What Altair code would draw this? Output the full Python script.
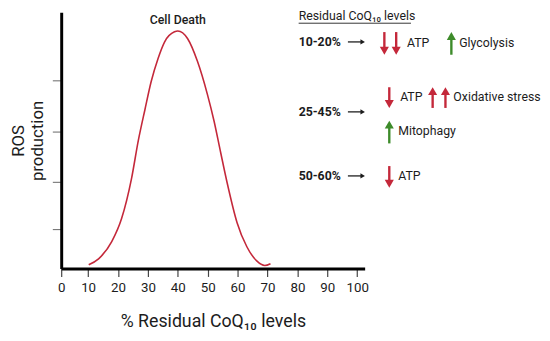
import altair as alt
import pandas as pd

# ---- data ----
pct_residual = [10.2, 13.5, 17.9, 21.2, 24.5, 26.8, 29.0, 31.1, 33.4, 35.6, 38.9, 40.0,
                43.3, 46.6, 49.9, 52.1, 54.3, 56.5, 59.8, 63.1, 66.4, 69.1, 71.0]
ros_level = [1.5, 3.8, 10.5, 19.5, 35.0, 50.0, 62.0, 73.0, 82.0, 88.5, 92.4, 92.7,
             89.7, 80.8, 68.0, 57.7, 45.5, 33.5, 18.0, 8.5, 3.0, 1.2, 1.9]
x_ticks = [1, 10, 20, 30, 40, 50, 60, 70, 80, 90, 100]
y_ticks = [15.4, 33.8, 53.5, 73.5]
peak_label = "Cell Death"
header = "Residual CoQ₁₀ levels"
x_title = "% Residual CoQ₁₀ levels"
y_title = ["ROS", "production"]

# ---- annotation layout (pixel positions in plot coords) ----
RED = "#c4283a"
GREEN = "#3d8b2a"
INK = "#1c1c1c"
FONT = "Roboto"
ANN = 12.5

texts = [  # text, x, y, bold
    ("10-20%", 241, 30, True), ("ATP", 351, 31, False), ("Glycolysis", 404, 31, False),
    ("25-45%", 241, 101, True), ("ATP", 344, 86, False), ("Oxidative stress", 398, 86, False),
    ("Mitophagy", 342, 120, False),
    ("50-60%", 241, 166, True), ("ATP", 342, 166, False),
]
big_arrows = [  # x, y_top, y_bottom, direction, color
    (328, 20, 43, "down", RED), (340, 20, 43, "down", RED), (396, 20, 43, "up", GREEN),
    (333, 76, 97, "down", RED), (377, 76, 97, "up", RED), (390, 76, 97, "up", RED),
    (333, 110, 133, "up", GREEN),
    (333, 156, 178, "down", RED),
]
small_arrows_y = [30, 101, 166]

curve_df = pd.DataFrame({"pct": pct_residual, "ros": ros_level})
peak_i = ros_level.index(max(ros_level))
peak_df = pd.DataFrame({"pct": [pct_residual[peak_i]], "ros": [ros_level[peak_i]], "t": [peak_label]})

xscale = alt.Scale(domain=[1, 102.5], nice=False, zero=False)
yscale = alt.Scale(domain=[0, 100], nice=False)

xaxis = alt.Axis(title=x_title, values=x_ticks,
                 labelExpr="datum.value == 1 ? '0' : datum.label",
                 grid=False, tickSize=8, tickColor="#444", tickWidth=1.2,
                 labelFontSize=13.5, labelColor=INK, labelFont=FONT, labelPadding=4,
                 labelFlush=False, labelOverlap=False,
                 titleFontSize=18, titleFontWeight="normal", titleColor=INK,
                 titleFont=FONT, titlePadding=19,
                 domainColor="black", domainWidth=3)
yaxis = alt.Axis(title=y_title, values=y_ticks, labels=False, grid=False,
                 tickSize=9, tickColor="#666", tickWidth=1,
                 titleFontSize=17, titleFontWeight="normal", titleColor=INK,
                 titleFont=FONT, titleLineHeight=20, titlePadding=5,
                 domainColor="black", domainWidth=3)

curve = alt.Chart(curve_df).mark_line(color=RED, strokeWidth=1.6, interpolate="monotone").encode(
    x=alt.X("pct:Q", scale=xscale, axis=xaxis),
    y=alt.Y("ros:Q", scale=yscale, axis=yaxis),
)

peak_text = alt.Chart(peak_df).mark_text(dy=-11, fontSize=12.5, font=FONT, fontWeight=500,
                                         color=INK).encode(
    x=alt.X("pct:Q", scale=xscale, axis=xaxis),
    y=alt.Y("ros:Q", scale=yscale, axis=yaxis),
    text="t:N")

layers = [curve, peak_text]

one = pd.DataFrame({"k": [0]})

# header + underline
layers.append(alt.Chart(pd.DataFrame({"t": [header]})).mark_text(
    align="left", baseline="middle", fontSize=ANN, font=FONT, color=INK).encode(
    x=alt.value(241), y=alt.value(4), text="t:N"))
layers.append(alt.Chart(one).mark_rule(color=INK, strokeWidth=0.9).encode(
    x=alt.value(241), x2=alt.value(355), y=alt.value(11)))

for t, x, y, bold in texts:
    layers.append(alt.Chart(pd.DataFrame({"t": [t]})).mark_text(
        align="left", baseline="middle", fontSize=ANN, font=FONT, color=INK,
        fontWeight="bold" if bold else "normal").encode(
        x=alt.value(x), y=alt.value(y), text="t:N"))

for y in small_arrows_y:
    layers.append(alt.Chart(one).mark_rule(color=INK, strokeWidth=1.3).encode(
        x=alt.value(291), x2=alt.value(305), y=alt.value(y)))
    layers.append(alt.Chart(one).mark_point(shape="triangle-right", filled=True, size=28,
                                            color=INK, opacity=1).encode(
        x=alt.value(306), y=alt.value(y)))

for x, yt, yb, d, c in big_arrows:
    if d == "down":
        layers.append(alt.Chart(one).mark_rule(color=c, strokeWidth=2.4).encode(
            x=alt.value(x), y=alt.value(yt), y2=alt.value(yb - 6)))
        layers.append(alt.Chart(one).mark_point(shape="triangle-down", filled=True, size=85,
                                                color=c, opacity=1).encode(
            x=alt.value(x), y=alt.value(yb - 4)))
    else:
        layers.append(alt.Chart(one).mark_rule(color=c, strokeWidth=2.4).encode(
            x=alt.value(x), y=alt.value(yt + 6), y2=alt.value(yb)))
        layers.append(alt.Chart(one).mark_point(shape="triangle-up", filled=True, size=85,
                                                color=c, opacity=1).encode(
            x=alt.value(x), y=alt.value(yt + 4)))

chart = alt.layer(*layers).properties(
    width=308, height=260,
    autosize=alt.AutoSizeParams(type="none"),
    padding={"left": 54, "top": 2, "right": 180, "bottom": 63},
    background="white",
).configure_view(stroke=None)

chart.save("out.html", embed_options={"renderer": "svg", "actions": False})
